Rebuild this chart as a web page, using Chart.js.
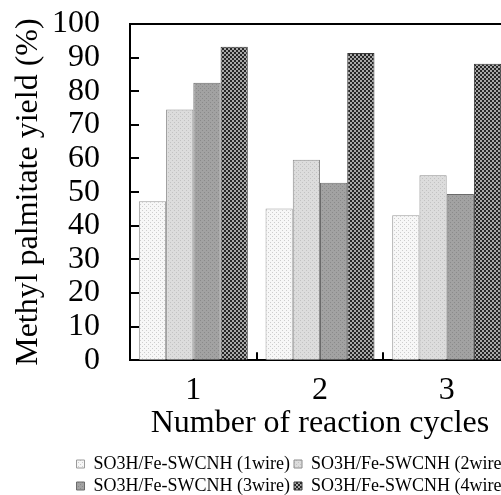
<!DOCTYPE html>
<html>
<head>
<meta charset="utf-8">
<script src="https://cdn.jsdelivr.net/npm/chart.js@4/dist/chart.umd.min.js"></script>
<style>
  html, body { margin: 0; padding: 0; background: #fff; overflow: hidden; }
  #wrap { width: 584px; height: 495px; }
</style>
</head>
<body>
<div id="wrap"><canvas id="yieldChart"></canvas></div>
<script>
// values
const cycles = ["1", "2", "3"];
const seriesNames = [
  "SO3H/Fe-SWCNH (1wire)",
  "SO3H/Fe-SWCNH (2wire)",
  "SO3H/Fe-SWCNH (3wire)",
  "SO3H/Fe-SWCNH (4wire)",
];
const wire1 = [47.3, 45.1, 43.1];
const wire2 = [74.6, 59.6, 55.0];
const wire3 = [82.5, 52.8, 49.4];
const wire4 = [93.2, 91.4, 88.2];
const yMin = 0;
const yMax = 100;
const yStep = 10;

const serif = "'Liberation Serif', 'Times New Roman', serif";

// small dotted fills, like the hatch patterns of the original
function makePattern(base, dot, cells) {
  const c = document.createElement("canvas");
  c.width = 4;
  c.height = 4;
  const g = c.getContext("2d");
  g.fillStyle = base;
  g.fillRect(0, 0, 4, 4);
  g.fillStyle = dot;
  cells.forEach(([x, y, s]) => g.fillRect(x, y, s, s));
  return g.createPattern(c, "repeat");
}

const fills = [
  makePattern("#f7f7f7", "#cdcdcd", [[0, 0, 1], [2, 2, 1]]),
  makePattern("#dcdcdc", "#c2c2c2", [[0, 0, 1], [2, 2, 1]]),
  makePattern("#a2a2a2", "#8a8a8a", [[0, 0, 1], [2, 2, 1]]),
  makePattern("#262626", "#a8a8a8", [[0, 0, 2], [2, 2, 2]]),
];
const edges = ["#9a9a9a", "#8c8c8c", "#6a6a6a", "#3a3a3a"];

const values = [wire1, wire2, wire3, wire4];
const datasets = values.map((v, i) => ({
  label: seriesNames[i],
  data: v,
  backgroundColor: fills[i],
  borderColor: edges[i],
  borderWidth: 1,
  barPercentage: 1.0,
  categoryPercentage: 0.86,
}));

// inward tick marks + top/right frame of the plot area
const frameTicks = {
  id: "frameTicks",
  afterDatasetsDraw(chart) {
    const { ctx, chartArea: a, scales } = chart;
    const x = scales.x;
    const y = scales.y;
    ctx.save();
    ctx.strokeStyle = "#000";
    ctx.lineWidth = 2;
    ctx.beginPath();
    y.ticks.forEach((t) => {
      if (t.value <= yMin || t.value >= yMax) return;
      const py = Math.round(y.getPixelForValue(t.value));
      ctx.moveTo(a.left, py);
      ctx.lineTo(a.left + 9, py);
    });
    const half = (x.getPixelForTick(1) - x.getPixelForTick(0)) / 2;
    for (let i = 1; i < cycles.length; i++) {
      const px = Math.round(x.getPixelForTick(i) - half);
      ctx.moveTo(px, a.bottom);
      ctx.lineTo(px, a.bottom - 8);
    }
    ctx.moveTo(a.left, a.top);
    ctx.lineTo(a.right, a.top);
    ctx.lineTo(a.right, a.bottom);
    ctx.stroke();
    ctx.restore();
  },
};

new Chart(document.getElementById("yieldChart"), {
  type: "bar",
  data: { labels: cycles, datasets },
  plugins: [frameTicks],
  options: {
    responsive: true,
    maintainAspectRatio: false,
    animation: false,
    layout: { padding: { top: 24, left: 0, right: 0, bottom: -10 } },
    scales: {
      x: {
        grid: { display: true, drawOnChartArea: false, drawTicks: false },
        border: { display: true, color: "#000", width: 2 },
        ticks: { color: "#000", padding: 11, font: { family: serif, size: 32 } },
        title: {
          display: true,
          text: "Number of reaction cycles",
          color: "#000",
          padding: { top: -16, bottom: 8 },
          font: { family: serif, size: 32 },
        },
      },
      y: {
        min: yMin,
        max: yMax,
        grid: { display: true, drawOnChartArea: false, drawTicks: false },
        border: { display: true, color: "#000", width: 2 },
        ticks: {
          stepSize: yStep,
          autoSkip: false,
          color: "#000",
          padding: 30,
          font: { family: serif, size: 32 },
        },
        title: {
          display: true,
          text: "Methyl palmitate yield (%)",
          color: "#000",
          padding: { top: 9, bottom: 0 },
          font: { family: serif, size: 32 },
        },
        afterFit: (s) => {
          s.width = 130;
          s.paddingTop = 0;
        },
      },
      // empty right-hand axis only to leave room so the plot runs past the window edge
      yR: {
        type: "linear",
        position: "right",
        grid: { display: false, drawTicks: false },
        border: { display: false },
        ticks: { display: false },
        afterFit: (s) => { s.width = 74; },
      },
    },
    plugins: {
      tooltip: { enabled: false },
      legend: {
        position: "bottom",
        labels: {
          color: "#000",
          boxWidth: 8,
          boxHeight: 8,
          padding: 4,
          font: { family: serif, size: 18 },
        },
      },
    },
  },
});
</script>
</body>
</html>
